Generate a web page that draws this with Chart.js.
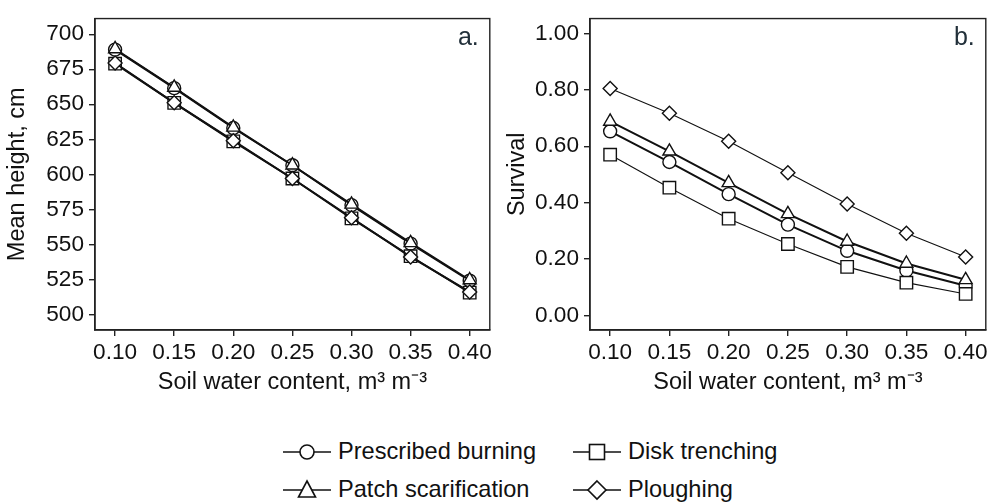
<!DOCTYPE html>
<html>
<head>
<meta charset="utf-8">
<script src="https://cdn.jsdelivr.net/npm/chart.js@4"></script>
<style>
  html, body { margin: 0; padding: 0; background: #fff; }
  #wrap { position: relative; width: 996px; height: 504px; overflow: hidden; font-family: "Liberation Sans", Arial, sans-serif; }
  #ca { position: absolute; left: 0; top: 0; }
  #cb { position: absolute; left: 500px; top: 0; }
  .leg { position: absolute; font-size: 23.6px; color: #111; line-height: 1; white-space: nowrap; display: flex; align-items: center; }
  .leg svg { margin-right: 7px; }
</style>
</head>
<body>
<div id="wrap">
  <canvas id="ca" width="500" height="400"></canvas>
  <canvas id="cb" width="496" height="400"></canvas>
  <div class="leg" style="left:283px; top:440px;"><svg width="48" height="24" viewBox="0 0 48 24"><line x1="0" y1="12" x2="48" y2="12" stroke="#111" stroke-width="1.6"/><circle cx="24" cy="12" r="7" fill="#fff" stroke="#111" stroke-width="1.6"/></svg><span>Prescribed burning</span></div>
  <div class="leg" style="left:573px; top:440px;"><svg width="48" height="24" viewBox="0 0 48 24"><line x1="0" y1="12" x2="48" y2="12" stroke="#111" stroke-width="1.6"/><rect x="16.5" y="4.5" width="15" height="15" fill="#fff" stroke="#111" stroke-width="1.6"/></svg><span>Disk trenching</span></div>
  <div class="leg" style="left:283px; top:478px;"><svg width="48" height="24" viewBox="0 0 48 24"><line x1="0" y1="12" x2="48" y2="12" stroke="#111" stroke-width="1.6"/><polygon points="24,3 32.5,19 15.5,19" fill="#fff" stroke="#111" stroke-width="1.6"/></svg><span>Patch scarification</span></div>
  <div class="leg" style="left:573px; top:478px;"><svg width="48" height="24" viewBox="0 0 48 24"><line x1="0" y1="12" x2="48" y2="12" stroke="#111" stroke-width="1.6"/><polygon points="24,3 33,12 24,21 15,12" fill="#fff" stroke="#111" stroke-width="1.6"/></svg><span>Ploughing</span></div>
</div>
<script>
// ---- data ----
const soilWater = [0.10, 0.15, 0.20, 0.25, 0.30, 0.35, 0.40];
const xTickValues = [0.10, 0.15, 0.20, 0.25, 0.30, 0.35, 0.40];
const heightTicks = [500, 525, 550, 575, 600, 625, 650, 675, 700];
const survivalTicks = [0, 0.2, 0.4, 0.6, 0.8, 1.0];

const heightBurning       = [689, 661.5, 633, 606.5, 578, 550.5, 524];
const heightScarification = [689.5, 662, 633.5, 606.5, 578.5, 551, 524.5];
const heightTrenching     = [679, 651, 623.5, 597, 568.5, 541.5, 515.5];
const heightPloughing     = [679.5, 651, 624, 597, 569, 541, 516];

const survivalBurning       = [0.653, 0.544, 0.430, 0.322, 0.229, 0.159, 0.105];
const survivalScarification = [0.688, 0.582, 0.470, 0.360, 0.262, 0.184, 0.126];
const survivalTrenching     = [0.570, 0.453, 0.343, 0.253, 0.172, 0.116, 0.076];
const survivalPloughing     = [0.805, 0.717, 0.618, 0.506, 0.395, 0.291, 0.207];

const seriesNames = ['Prescribed burning', 'Disk trenching', 'Patch scarification', 'Ploughing'];

// ---- styling ----
const FONT = '"Liberation Sans", Arial, sans-serif';
const INK = '#111';
Chart.defaults.font.family = FONT;
Chart.defaults.color = INK;

function pts(vals) { return soilWater.map((x, i) => ({ x: x, y: vals[i] })); }

function ds(label, vals, style, radius, lw, order) {
  return {
    label: label, data: pts(vals), order: order,
    borderColor: INK, borderWidth: lw, backgroundColor: '#fff',
    pointStyle: style, pointRadius: radius, pointHoverRadius: radius,
    pointBackgroundColor: '#fff', pointBorderColor: INK, pointBorderWidth: 1.4,
    tension: 0, fill: false
  };
}

const framePlugin = {
  id: 'frame',
  afterDraw(chart, args, opts) {
    const a = chart.chartArea, c = chart.ctx;
    c.save();
    c.strokeStyle = '#222';
    c.lineWidth = 1.4;
    c.strokeRect(a.left, a.top, a.right - a.left, a.bottom - a.top);
    c.fillStyle = '#22303a';
    c.font = '25px ' + FONT;
    c.textAlign = 'right';
    c.textBaseline = 'middle';
    c.fillText(opts.tag, a.right - 11, a.top + 20);
    c.restore();
  }
};

function makeOptions(yMin, yMax, yTicks, yTitle, yFmt, yWidth, padRight) {
  return {
    responsive: false, animation: false,
    layout: { padding: { left: 0, top: 13, right: padRight, bottom: 0 } },
    plugins: { legend: { display: false }, tooltip: { enabled: false } },
    scales: {
      x: {
        type: 'linear', min: 0.083, max: 0.417,
        afterBuildTicks(s) { s.ticks = xTickValues.map(v => ({ value: v })); },
        afterFit(s) { s.height = 70; },
        grid: { display: true, drawOnChartArea: false, drawTicks: true, tickLength: 6, color: '#222', lineWidth: 1.4 },
        border: { display: true, color: '#222', width: 1.4 },
        ticks: { font: { size: 22.6 }, color: INK, padding: 3, maxRotation: 0, callback: v => Number(v).toFixed(2) },
        title: { display: true, text: 'Soil water content, m³ m⁻³', font: { size: 23.5 }, color: INK, padding: { top: 2, bottom: 3 } }
      },
      y: {
        type: 'linear', min: yMin, max: yMax,
        afterBuildTicks(s) { s.ticks = yTicks.map(v => ({ value: v })); },
        afterFit(s) { s.width = yWidth; },
        grid: { display: true, drawOnChartArea: false, drawTicks: true, tickLength: 6, color: '#222', lineWidth: 1.4 },
        border: { display: true, color: '#222', width: 1.4 },
        ticks: { font: { size: 22.6 }, color: INK, padding: 5, callback: yFmt },
        title: { display: true, text: yTitle, font: { size: 23.5 }, color: INK, padding: { top: 3, bottom: 2 } }
      }
    }
  };
}

// Panel a
const optA = makeOptions(488.8, 711.2, heightTicks, 'Mean height, cm', v => String(v), 95, 7);
optA.plugins.frame = { tag: 'a.' };
new Chart(document.getElementById('ca'), {
  type: 'line',
  data: { datasets: [
    ds(seriesNames[0], heightBurning, 'circle', 6.5, 1.9, 4),
    ds(seriesNames[2], heightScarification, 'triangle', 7.5, 1.9, 3),
    ds(seriesNames[1], heightTrenching, 'rect', 8.8, 1.9, 2),
    ds(seriesNames[3], heightPloughing, 'rectRot', 7, 1.9, 1)
  ] },
  options: optA,
  plugins: [framePlugin]
});

// Panel b
const optB = makeOptions(-0.052, 1.053, survivalTicks, 'Survival', v => Number(v).toFixed(2), 90, 5);
optB.plugins.frame = { tag: 'b.' };
new Chart(document.getElementById('cb'), {
  type: 'line',
  data: { datasets: [
    ds(seriesNames[0], survivalBurning, 'circle', 6.5, 2, 4),
    ds(seriesNames[2], survivalScarification, 'triangle', 7.5, 2, 3),
    ds(seriesNames[1], survivalTrenching, 'rect', 8.8, 1.1, 2),
    ds(seriesNames[3], survivalPloughing, 'rectRot', 7, 1.1, 1)
  ] },
  options: optB,
  plugins: [framePlugin]
});
</script>
</body>
</html>
